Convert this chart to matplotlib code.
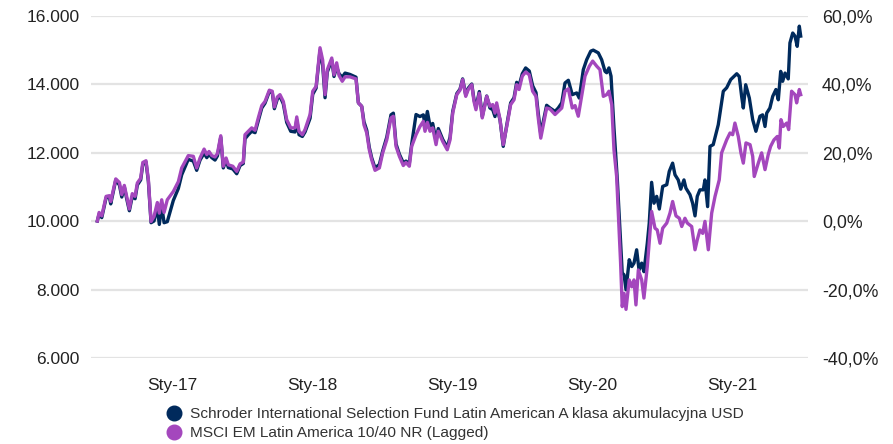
import matplotlib
matplotlib.use("Agg")
import matplotlib.pyplot as plt
from matplotlib.lines import Line2D

# time in decimal years, values as growth of 10 000
index_t = [
    2016.466, 2016.479, 2016.498, 2016.529, 2016.552, 2016.562, 2016.598, 2016.624, 2016.641, 2016.659,
    2016.676, 2016.695, 2016.716, 2016.736, 2016.752, 2016.776, 2016.791, 2016.814, 2016.831, 2016.850,
    2016.871, 2016.895, 2016.909, 2016.926, 2016.943, 2016.966, 2017.009, 2017.045, 2017.069, 2017.116,
    2017.152, 2017.176, 2017.200, 2017.229, 2017.248, 2017.264, 2017.284, 2017.307, 2017.324, 2017.348,
    2017.366, 2017.386, 2017.402, 2017.434, 2017.462, 2017.486, 2017.509, 2017.521, 2017.545, 2017.569,
    2017.593, 2017.616, 2017.641, 2017.664, 2017.695, 2017.716, 2017.731, 2017.752, 2017.771, 2017.795,
    2017.819, 2017.848, 2017.879, 2017.891, 2017.907, 2017.931, 2017.950, 2017.986, 2018.005, 2018.029,
    2018.057, 2018.076, 2018.093, 2018.109, 2018.141, 2018.157, 2018.176, 2018.193, 2018.216, 2018.236,
    2018.271, 2018.314, 2018.331, 2018.355, 2018.371, 2018.391, 2018.409, 2018.426, 2018.450, 2018.481,
    2018.505, 2018.534, 2018.564, 2018.581, 2018.600, 2018.624, 2018.652, 2018.671, 2018.695, 2018.712,
    2018.743, 2018.771, 2018.795, 2018.807, 2018.824, 2018.843, 2018.862, 2018.886, 2018.902, 2018.934,
    2018.966, 2018.986, 2019.005, 2019.034, 2019.057, 2019.076, 2019.098, 2019.116, 2019.141, 2019.157,
    2019.171, 2019.195, 2019.216, 2019.248, 2019.271, 2019.291, 2019.307, 2019.319, 2019.343, 2019.366,
    2019.391, 2019.419, 2019.443, 2019.462, 2019.479, 2019.502, 2019.526, 2019.552, 2019.576, 2019.600,
    2019.616, 2019.634, 2019.652, 2019.676, 2019.700, 2019.736, 2019.759, 2019.784, 2019.807, 2019.831,
    2019.859, 2019.879, 2019.902, 2019.926, 2019.950, 2019.981, 2020.005, 2020.034, 2020.057, 2020.081,
    2020.105, 2020.121, 2020.141, 2020.157, 2020.176, 2020.189, 2020.204, 2020.216, 2020.229, 2020.243,
    2020.266, 2020.284, 2020.300, 2020.314, 2020.331, 2020.355, 2020.371, 2020.395, 2020.414, 2020.426,
    2020.450, 2020.466, 2020.486, 2020.505, 2020.534, 2020.557, 2020.576, 2020.600, 2020.624, 2020.641,
    2020.664, 2020.681, 2020.712, 2020.736, 2020.752, 2020.771, 2020.791, 2020.807, 2020.831, 2020.855,
    2020.879, 2020.909, 2020.926, 2020.962, 2020.986, 2021.005, 2021.021, 2021.045, 2021.064, 2021.081,
    2021.100, 2021.129, 2021.148, 2021.159, 2021.188, 2021.212, 2021.236, 2021.259, 2021.276, 2021.300,
    2021.324, 2021.338, 2021.350, 2021.366, 2021.391, 2021.405, 2021.426, 2021.450, 2021.462, 2021.481,
    2021.491,
]
index_v = [
    10000, 10250, 10150, 10720, 10740, 10570, 11230, 11125, 10770, 11040,
    10720, 10350, 10800, 10720, 11110, 11250, 11710, 11760, 11200, 9985,
    10130, 10540, 10230, 10620, 10250, 10620, 10860, 11150, 11550, 11910,
    11890, 11550, 11840, 12100, 11940, 12030, 11910, 11870, 11970, 12490,
    11600, 11840, 11640, 11600, 11450, 11670, 11720, 12520, 12620, 12720,
    12650, 13010, 13370, 13490, 13820, 13790, 13330, 13620, 13690, 13490,
    12960, 12720, 12720, 13040, 12620, 12520, 12670, 13110, 13790, 13930,
    15060, 14700, 13690, 14420, 14760, 14270, 14620, 14250, 14080, 14210,
    14210, 14150, 13450, 13350, 12810, 12570, 12080, 11790, 11480, 11550,
    11990, 12370, 13010, 13060, 12180, 11890, 11620, 11710, 11600, 12180,
    12520, 12760, 12910, 12620, 12880, 12620, 12720, 12230, 12620, 12320,
    12080, 12370, 13150, 13690, 13820, 14130, 13640, 13840, 13980, 13490,
    13250, 13730, 13010, 13640, 13350, 13400, 13150, 13450, 12960, 12230,
    12760, 13400, 13540, 13980, 13840, 14230, 14350, 14270, 13790, 13640,
    13010, 12420, 12800, 13300, 13270, 13110, 13200, 13300, 13790, 13860,
    13300, 13370, 13060, 13640, 14230, 14520, 14670, 14520, 14420, 13640,
    13690, 13790, 13400, 12080, 11300, 10130, 8800, 7500, 7890, 7420,
    8280, 8080, 8280, 7550, 8570, 8280, 7750, 8670, 9640, 10280,
    9790, 9740, 9350, 9790, 9940, 10230, 10570, 10150, 10080, 9840,
    10080, 9940, 9840, 9160, 9450, 9740, 9640, 9990, 9160, 10230,
    10720, 11200, 11990, 12370, 12570, 12520, 12860, 12470, 11990, 11690,
    12280, 12230, 11890, 11300, 11690, 11990, 11500, 11940, 12180, 12370,
    12470, 12130, 12960, 12760, 12860, 12670, 13790, 13690, 13450, 13840,
    13690,
]

fund_t = index_t[:150] + [
    2019.859, 2019.891, 2019.909, 2019.938, 2019.962, 2019.991, 2020.009, 2020.045, 2020.069, 2020.093,
    2020.105, 2020.121, 2020.136, 2020.157, 2020.181, 2020.200, 2020.216, 2020.229, 2020.243, 2020.266,
    2020.284, 2020.300, 2020.319, 2020.336, 2020.355, 2020.371, 2020.395, 2020.409, 2020.426, 2020.443,
    2020.462, 2020.481, 2020.505, 2020.534, 2020.552, 2020.576, 2020.593, 2020.616, 2020.634, 2020.657,
    2020.671, 2020.700, 2020.719, 2020.736, 2020.752, 2020.771, 2020.795, 2020.807, 2020.826, 2020.843,
    2020.866, 2020.902, 2020.938, 2020.962, 2020.991, 2021.034, 2021.052, 2021.069, 2021.081, 2021.098,
    2021.124, 2021.148, 2021.171, 2021.200, 2021.219, 2021.236, 2021.248, 2021.271, 2021.291, 2021.314,
    2021.331, 2021.348, 2021.362, 2021.379, 2021.402, 2021.414, 2021.434, 2021.450, 2021.466, 2021.481,
    2021.491,
]
fund_v = [
    10000, 10200, 10100, 10680, 10700, 10500, 11200, 11050, 10700, 11000,
    10650, 10300, 10720, 10650, 11050, 11200, 11650, 11720, 11150, 9950,
    10000, 10380, 9900, 10450, 9950, 9980, 10600, 10950, 11350, 11800,
    11750, 11480, 11780, 11980, 11850, 11950, 11850, 11780, 11900, 12450,
    11550, 11780, 11560, 11520, 11380, 11620, 11680, 12400, 12520, 12620,
    12580, 12930, 13300, 13440, 13780, 13750, 13280, 13560, 13640, 13420,
    12880, 12620, 12600, 12950, 12520, 12470, 12600, 13000, 13700, 13880,
    14980, 14550, 13600, 14350, 14700, 14220, 14500, 14300, 14200, 14320,
    14280, 14200, 13450, 13350, 12900, 12650, 12150, 11850, 11550, 11650,
    12050, 12450, 13100, 13150, 12250, 11950, 11700, 11750, 11680, 12250,
    13110, 13050, 13100, 12800, 13200, 12770, 12850, 12350, 12700, 12380,
    12150, 12450, 13200, 13720, 13850, 14150, 13680, 13880, 14000, 13550,
    13320, 13780, 13050, 13650, 13300, 13250, 13050, 13350, 12950, 12180,
    12800, 13450, 13600, 14050, 13950, 14300, 14470, 14380, 13950, 13750,
    13150, 12550, 12900, 13380, 13300, 13200, 13300, 13450, 14030, 14110,
    13690, 13740, 13590, 14420, 14710, 14960, 14990, 14910, 14710, 14370,
    14330, 14470, 14230, 12720, 11200, 9740, 8480, 8430, 7990, 8870,
    8670, 8770, 9160, 8570, 8770, 8520, 9350, 9940, 11130, 10520,
    10720, 10350, 11010, 11060, 11450, 11690, 11350, 11200, 10930, 11200,
    10960, 10770, 10520, 10150, 10720, 10910, 10910, 11200, 10420, 12180,
    12230, 12810, 13790, 13890, 14130, 14300, 14220, 13640, 13300, 13980,
    13590, 12960, 12620, 13060, 13100, 12760, 13150, 13300, 13640, 13840,
    13540, 14370, 14080, 14320, 14150, 15200, 15490, 15400, 15100, 15690,
    15400,
]

fund_name = "Schroder International Selection Fund Latin American A klasa akumulacyjna USD"
index_name = "MSCI EM Latin America 10/40 NR (Lagged)"
year_ticks = [2017, 2018, 2019, 2020, 2021]
year_labels = ["Sty-17", "Sty-18", "Sty-19", "Sty-20", "Sty-21"]
left_ticks = [6000, 8000, 10000, 12000, 14000, 16000]
right_ticks = [-40, -20, 0, 20, 40, 60]

navy = "#002a5c"
purple = "#a447bd"
txt = "#222222"

plt.rcParams["font.family"] = ["Liberation Sans", "DejaVu Sans"]

fig = plt.figure(figsize=(8.93, 4.44), dpi=100)
ax = fig.add_axes([0.1019, 0.1937, 0.8029, 0.7713])

ax.plot(fund_t, fund_v, color=navy, lw=2.4, zorder=3)
ax.plot(index_t, index_v, color=purple, lw=2.4, zorder=4)

ax.set_ylim(6000, 16000)
ax.set_xlim(2016.421, 2021.543)
ax.set_yticks(left_ticks)
ax.set_yticklabels([f"{v:,}".replace(",", ".") for v in left_ticks])
ax.set_xticks(year_ticks)
ax.set_xticklabels(year_labels)
ax.grid(axis="y", color="#e3e3e3", lw=1.6)
ax.set_axisbelow(True)
for s in ax.spines.values():
    s.set_visible(False)
ax.tick_params(axis="y", length=0, pad=8, labelsize=12.5, labelcolor=txt)
ax.tick_params(axis="x", length=0, pad=14.5, labelsize=12.5, labelcolor=txt)

ax2 = ax.twinx()
ax2.set_ylim(-40, 60)
ax2.set_yticks(right_ticks)
ax2.set_yticklabels([f"{v:.1f}%".replace(".", ",") for v in right_ticks])
for s in ax2.spines.values():
    s.set_visible(False)
ax2.tick_params(axis="y", length=0, pad=10, labelsize=12.8, labelcolor=txt)

handles = [
    Line2D([], [], ls="none", marker="o", ms=10.5, color=navy),
    Line2D([], [], ls="none", marker="o", ms=10.5, color=purple),
]
fig.legend(handles, [fund_name, index_name], loc="upper left",
           bbox_to_anchor=(0.176, 0.1), frameon=False, fontsize=11.1,
           handletextpad=0.45, labelspacing=0.3, borderpad=0, handlelength=1.2,
           labelcolor="#333333")

fig.savefig("out.png", dpi=100)
